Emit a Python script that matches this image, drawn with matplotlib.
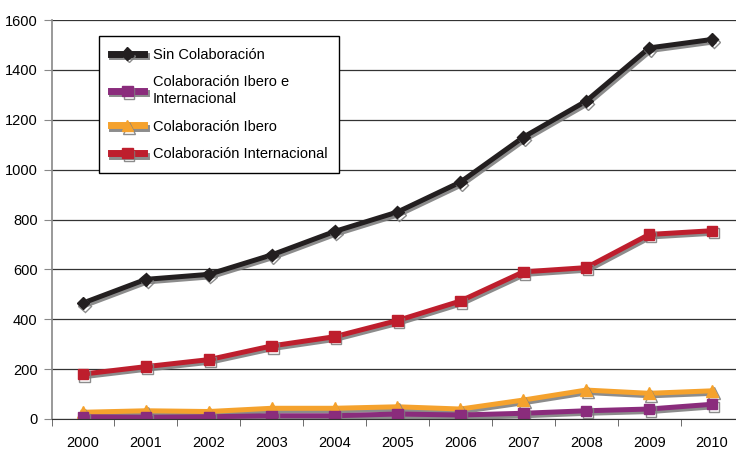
"""Publicaciones por tipo de colaboración, 2000-2010."""

import matplotlib

matplotlib.use("Agg")

import matplotlib.patheffects as pe
import matplotlib.pyplot as plt
import numpy as np

years = ["2000", "2001", "2002", "2003", "2004", "2005",
         "2006", "2007", "2008", "2009", "2010"]

sin_colab = [465, 560, 580, 658, 752, 830, 950, 1130, 1275, 1488, 1522]
ibero_e_internacional = [9, 7, 9, 13, 13, 20, 16, 23, 33, 40, 59]
ibero = [27, 33, 30, 43, 43, 49, 40, 76, 116, 103, 113]
internacional = [180, 210, 238, 293, 330, 395, 473, 590, 607, 740, 755]

plt.rcParams["font.family"] = ["Liberation Sans", "DejaVu Sans"]

fig = plt.figure(figsize=(7.36, 4.51), dpi=100)
ax = fig.add_axes([51.5 / 736, 32 / 451, 692 / 736, 399 / 451])

x = np.arange(len(years))
shadow = [pe.SimpleLineShadow(offset=(1.2, -1.8), shadow_color="#808080", alpha=0.9),
          pe.Normal()]

series = [
    ("Sin Colaboración", sin_colab, "#231f20", "D", 6.5),
    ("Colaboración Ibero e\nInternacional", ibero_e_internacional, "#8a2c7c", "s", 7.5),
    ("Colaboración Ibero", ibero, "#f5a22d", "^", 8.5),
    ("Colaboración Internacional", internacional, "#be1e2d", "s", 7.5),
]

# draw in reverse so the black line sits on top, legend keeps original order
handles = {}
for label, vals, color, marker, ms in reversed(series):
    (ln,) = ax.plot(x, vals, color=color, lw=3.6, marker=marker, ms=ms,
                    markeredgecolor=color, label=label, path_effects=shadow,
                    solid_joinstyle="miter")
    handles[label] = ln

ax.set_xlim(-0.5, 10.5)
ax.set_ylim(0, 1600)
ax.set_yticks(np.arange(0, 1601, 200))
ax.set_xticks(x)
ax.set_xticklabels(years)
ax.set_xticks(np.arange(-0.5, 10.6, 1), minor=True)

ax.grid(axis="y", color="#333333", lw=0.9)
ax.set_axisbelow(True)
for side in ["top", "right"]:
    ax.spines[side].set_visible(False)
ax.spines["left"].set_color("#888888")
ax.spines["left"].set_linewidth(1.2)
ax.spines["bottom"].set_color("#333333")

ax.tick_params(axis="x", which="major", length=0, pad=12, labelsize=10.5)
ax.tick_params(axis="x", which="minor", length=5, color="#555555")
ax.tick_params(axis="y", length=6, color="#888888", labelsize=10.5, pad=4)

leg = ax.legend([handles[s[0]] for s in series], [s[0] for s in series],
                loc="upper left", bbox_to_anchor=(0.0686, 0.96),
                fancybox=False, framealpha=1, edgecolor="black",
                fontsize=10.5, handlelength=2.3, labelspacing=0.95,
                borderpad=0.8, handletextpad=0.6, borderaxespad=0)
leg.get_frame().set_linewidth(1.0)
for h in leg.legend_handles:
    h.set_linewidth(5)

fig.savefig("out.png", dpi=100)
plt.close(fig)
